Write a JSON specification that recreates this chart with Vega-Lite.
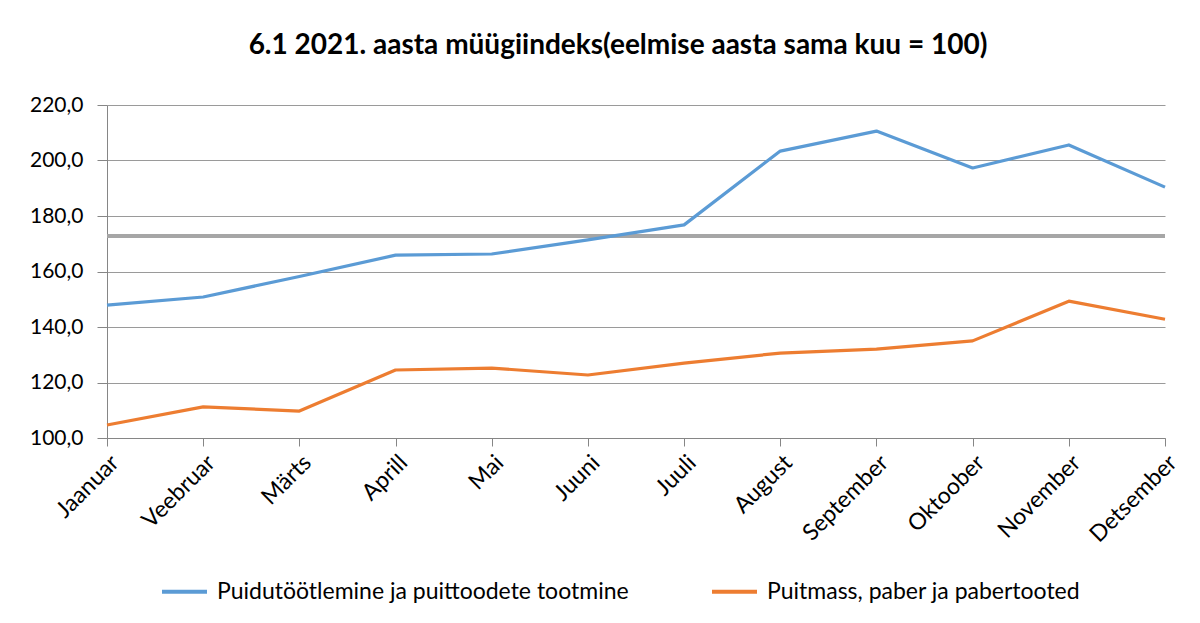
{
  "$schema": "https://vega.github.io/schema/vega-lite/v6.json",
  "width": 1058,
  "height": 333,
  "autosize": {"type": "none"},
  "padding": {"left": 107, "top": 105, "right": 35, "bottom": 185},
  "background": "white",
  "config": {
    "locale": {"number": {"decimal": ",", "thousands": " ", "grouping": [3], "currency": ["", " €"]}},
    "font": "Lato",
    "view": {"stroke": null}
  },
  "title": {
    "text": "6.1 2021. aasta müügiindeks(eelmise aasta sama kuu = 100)",
    "font": "Lato",
    "fontSize": 28,
    "fontWeight": "bold",
    "color": "#000000",
    "anchor": "middle",
    "dx": -18,
    "offset": 34
  },
  "datasets": {
    "lines": [
      {"month": "Jaanuar", "series": "Puidutöötlemine ja puittoodete tootmine", "value": 147.9},
      {"month": "Veebruar", "series": "Puidutöötlemine ja puittoodete tootmine", "value": 150.8},
      {"month": "Märts", "series": "Puidutöötlemine ja puittoodete tootmine", "value": 158.2},
      {"month": "Aprill", "series": "Puidutöötlemine ja puittoodete tootmine", "value": 165.9},
      {"month": "Mai", "series": "Puidutöötlemine ja puittoodete tootmine", "value": 166.3},
      {"month": "Juuni", "series": "Puidutöötlemine ja puittoodete tootmine", "value": 171.4},
      {"month": "Juuli", "series": "Puidutöötlemine ja puittoodete tootmine", "value": 176.8},
      {"month": "August", "series": "Puidutöötlemine ja puittoodete tootmine", "value": 203.4},
      {"month": "September", "series": "Puidutöötlemine ja puittoodete tootmine", "value": 210.6},
      {"month": "Oktoober", "series": "Puidutöötlemine ja puittoodete tootmine", "value": 197.3},
      {"month": "November", "series": "Puidutöötlemine ja puittoodete tootmine", "value": 205.6},
      {"month": "Detsember", "series": "Puidutöötlemine ja puittoodete tootmine", "value": 190.4},
      {"month": "Jaanuar", "series": "Puitmass, paber ja pabertooted", "value": 104.7},
      {"month": "Veebruar", "series": "Puitmass, paber ja pabertooted", "value": 111.2},
      {"month": "Märts", "series": "Puitmass, paber ja pabertooted", "value": 109.7},
      {"month": "Aprill", "series": "Puitmass, paber ja pabertooted", "value": 124.5},
      {"month": "Mai", "series": "Puitmass, paber ja pabertooted", "value": 125.2},
      {"month": "Juuni", "series": "Puitmass, paber ja pabertooted", "value": 122.7},
      {"month": "Juuli", "series": "Puitmass, paber ja pabertooted", "value": 127.0},
      {"month": "August", "series": "Puitmass, paber ja pabertooted", "value": 130.6},
      {"month": "September", "series": "Puitmass, paber ja pabertooted", "value": 132.0},
      {"month": "Oktoober", "series": "Puitmass, paber ja pabertooted", "value": 135.0},
      {"month": "November", "series": "Puitmass, paber ja pabertooted", "value": 149.3},
      {"month": "Detsember", "series": "Puitmass, paber ja pabertooted", "value": 142.8}
    ],
    "ref": [{"value": 172.8}]
  },
  "layer": [
    {
      "data": {"name": "ref"},
      "mark": {"type": "rule", "color": "#A6A6A6", "strokeWidth": 4},
      "encoding": {
        "y": {"field": "value", "type": "quantitative", "scale": {"domain": [100, 220]}}
      }
    },
    {
      "data": {"name": "lines"},
      "mark": {"type": "line", "strokeWidth": 3.2, "strokeJoin": "round"},
      "encoding": {
        "x": {
          "field": "month",
          "type": "ordinal",
          "sort": ["Jaanuar", "Veebruar", "Märts", "Aprill", "Mai", "Juuni", "Juuli", "August", "September", "Oktoober", "November", "Detsember"],
          "scale": {"type": "point", "padding": 0},
          "axis": {
            "title": null,
            "labelAngle": -45,
            "labelAlign": "right",
            "labelBaseline": "top",
            "labelFont": "Lato",
            "labelFontSize": 23,
            "labelColor": "#000000",
            "labelPadding": 5,
            "labelLimit": 0,
            "labelOverlap": false,
            "domainColor": "#868686",
            "tickColor": "#868686",
            "tickSize": 8,
            "grid": false
          }
        },
        "y": {
          "field": "value",
          "type": "quantitative",
          "scale": {"domain": [100, 220], "nice": false, "zero": false},
          "axis": {
            "title": null,
            "values": [100, 120, 140, 160, 180, 200, 220],
            "format": ".1f",
            "labelFont": "Lato",
            "labelFontSize": 21,
            "labelColor": "#000000",
            "labelPadding": 14,
            "domainColor": "#868686",
            "tickColor": "#868686",
            "tickSize": 10,
            "grid": true,
            "gridColor": "#9A9A9A",
            "gridWidth": 1
          }
        },
        "color": {
          "field": "series",
          "type": "nominal",
          "scale": {
            "domain": ["Puidutöötlemine ja puittoodete tootmine", "Puitmass, paber ja pabertooted"],
            "range": ["#5B9BD5", "#ED7D31"]
          },
          "legend": {
            "title": null,
            "orient": "none",
            "legendX": 53,
            "legendY": 462,
            "direction": "horizontal",
            "symbolType": "stroke",
            "symbolSize": 2025,
            "symbolStrokeWidth": 4,
            "labelFont": "Lato",
            "labelFontSize": 23,
            "labelLimit": 0,
            "labelColor": "#000000",
            "labelOffset": 8,
            "columnPadding": 75
          }
        }
      }
    }
  ]
}
